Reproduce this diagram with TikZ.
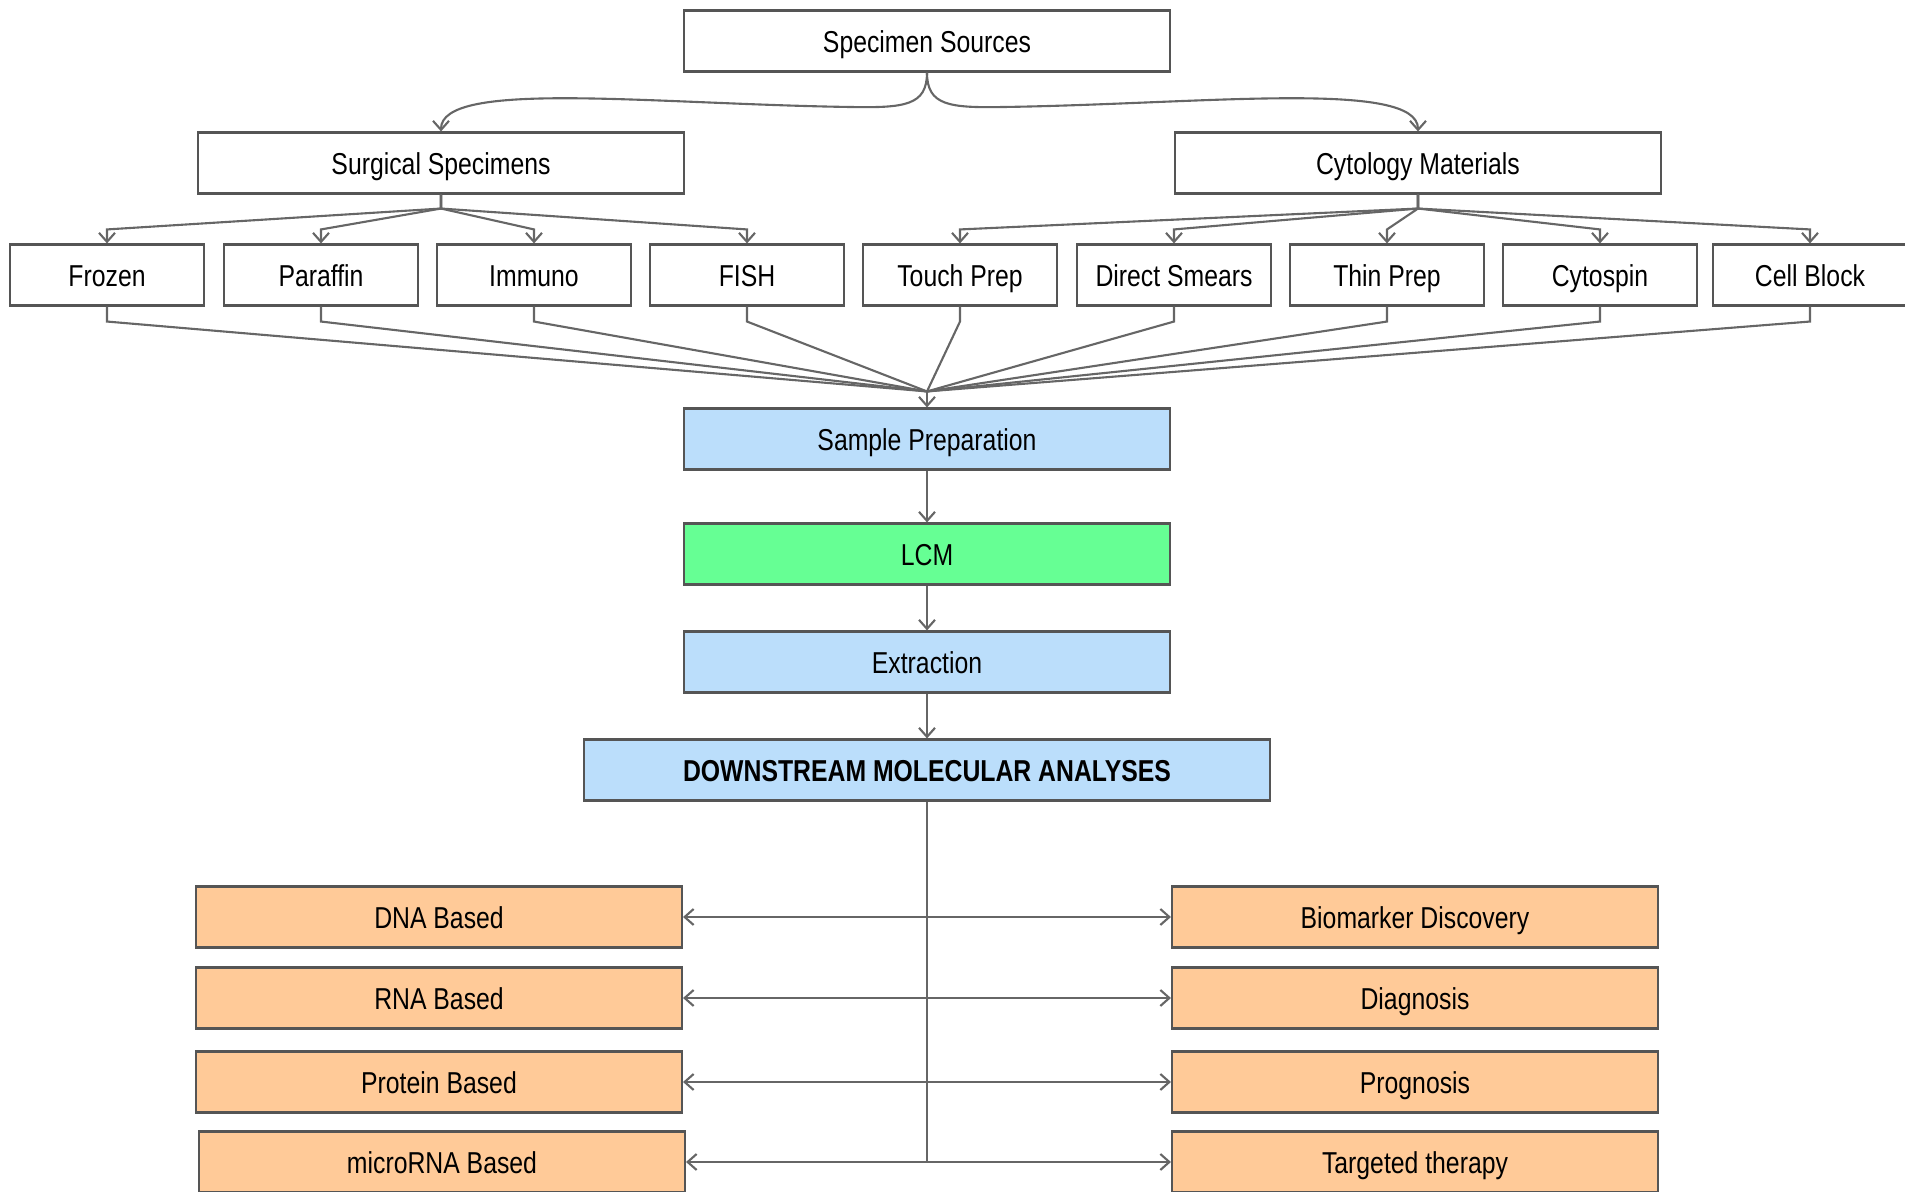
\documentclass[tikz,border=0pt]{standalone}
\usepackage{fontspec}
\setmainfont{Liberation Sans}[FakeStretch=0.82]
\usetikzlibrary{arrows.meta,calc}
\definecolor{linegray}{HTML}{666666}
\definecolor{boxgray}{HTML}{555555}
\definecolor{prepblue}{HTML}{BBDEFB}
\definecolor{lcmgreen}{HTML}{66FF94}
\definecolor{useorange}{HTML}{FFCA98}
\begin{document}
\begin{tikzpicture}[x=0.1mm, y=-0.1mm,
          box/.style={draw=boxgray, line width=0.6pt, minimum width=48.6mm, minimum height=6.1mm,
                      inner sep=0pt, text height=0.72em, text depth=0.04em,
                      font=\fontsize{8.6}{10}\selectfont},
          leaf/.style={box, minimum width=19.4mm},
          link/.style={draw=linegray, line width=0.6pt},
          arr/.style={link, -{Straight Barb[length=0.9mm,width=1.6mm]}}]
          \useasboundingbox (0,0) rectangle (1905,1192);
          \node[box] (src) at (927,41) {Specimen Sources};
          \node[box] (surg) at (441,163) {Surgical Specimens};
          \node[box] (cyto) at (1418,163) {Cytology Materials};
          \foreach \n/\x/\t in {frozen/107/Frozen, paraffin/321/Paraffin, immuno/534/Immuno,
                                fish/747/FISH, touch/960/Touch Prep, smears/1174/Direct Smears,
                                thin/1387/Thin Prep, cytospin/1600/Cytospin, block/1810/Cell Block}{
              \node[leaf] (\n) at (\x,275) {\t};
          }
          \node[box, fill=prepblue] (prep) at (927,439) {Sample Preparation};
          \node[box, fill=lcmgreen] (lcm) at (927,554) {LCM};
          \node[box, fill=prepblue] (extr) at (927,662) {Extraction};
          \node[box, fill=prepblue, minimum width=68.6mm, font=\fontsize{8.6}{10}\selectfont\bfseries] (dma) at (927,770) {DOWNSTREAM MOLECULAR ANALYSES};
          \foreach \n/\x/\y/\t in {dna/439/917/DNA Based, rna/439/998/RNA Based,
                                   protein/439/1082/Protein Based, mirna/442/1162/microRNA Based}{
              \node[box, fill=useorange] (\n) at (\x,\y) {\t};
          }
          \foreach \n/\y/\t in {biomarker/917/Biomarker Discovery, diagnosis/998/Diagnosis,
                                prognosis/1082/Prognosis, therapy/1162/Targeted therapy}{
              \node[box, fill=useorange] (\n) at (1415,\y) {\t};
          }
          \coordinate (lmid) at (850,107);
          \coordinate (rmid) at (1004,107);
          \draw[arr] (src.south) .. controls +(0,33) and +(55,1) .. (lmid)
                     .. controls +(-200,-3) and +(0,-52) .. (surg.north);
          \draw[arr] (src.south) .. controls +(0,33) and +(-55,1) .. (rmid)
                     .. controls +(200,-3) and +(0,-52) .. (cyto.north);
          \foreach \n in {frozen,paraffin,immuno,fish}{
              \draw[arr] (surg.south) -- ++(0,14) -- ($(\n.north)+(0,-14)$) -- (\n.north);
          }
          \foreach \n in {touch,smears,thin,cytospin,block}{
              \draw[arr] (cyto.south) -- ++(0,14) -- ($(\n.north)+(0,-14)$) -- (\n.north);
          }
          \coordinate (hub) at ($(prep.north)+(0,-16)$);
          \foreach \n in {frozen,paraffin,immuno,fish,touch,smears,thin,cytospin,block}{
              \draw[link] (\n.south) -- ++(0,15) -- (hub);
          }
          \draw[arr] (hub) -- (prep.north);
          \draw[arr] (prep) -- (lcm);
          \draw[arr] (lcm) -- (extr);
          \draw[arr] (extr) -- (dma);
          \draw[link] (dma.south) -- (dma.south |- mirna.east);
          \foreach \l/\r in {dna/biomarker, rna/diagnosis, protein/prognosis, mirna/therapy}{
              \coordinate (j\l) at (dma.south |- \l.east);
              \draw[arr] (j\l) -- (\l.east);
              \draw[arr] (j\l) -- (\r.west);
          }
\end{tikzpicture}
\end{document}
